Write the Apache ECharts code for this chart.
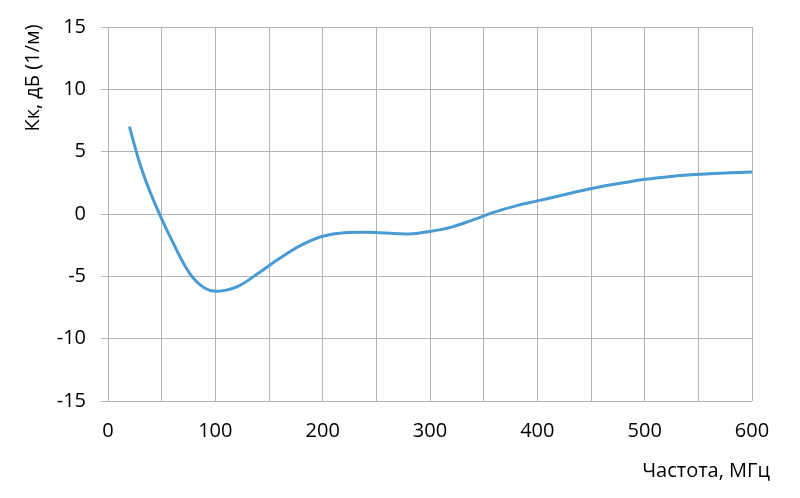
<!DOCTYPE html>
<html><head><meta charset="utf-8">
<script src="https://cdn.jsdelivr.net/npm/echarts@6/dist/echarts.min.js"></script>
<style>html,body{margin:0;padding:0;background:#fff}#c{width:800px;height:498px}</style>
</head><body><div id="c"></div>
<script>
const freq = [20, 30, 40, 60, 80, 100, 120, 140, 160, 180, 200, 220, 240, 260, 280, 300, 320, 340, 360, 380, 400, 420, 440, 460, 480, 500, 520, 540, 560, 580, 600];
const kk   = [7.0, 3.95, 1.6, -2.2, -5.2, -6.2, -5.85, -4.75, -3.55, -2.5, -1.78, -1.5, -1.47, -1.53, -1.6, -1.4, -1.05, -0.47, 0.15, 0.65, 1.05, 1.45, 1.85, 2.2, 2.5, 2.78, 2.97, 3.12, 3.22, 3.3, 3.37];
const xTicks = [0, 100, 200, 300, 400, 500, 600];
const yTicks = [-15, -10, -5, 0, 5, 10, 15];
const xName = 'Частота, МГц';
const yName = 'Кк, дБ (1/м)';

const chart = echarts.init(document.getElementById('c'));
const font = '"Open Sans", "Noto Sans", sans-serif';
chart.setOption({
  animation: false,
  grid: {left: 108, right: 48, top: 27, bottom: 97},
  xAxis: {
    type: 'value', min: 0, max: 600, interval: 50,
    axisLine: {show: false}, axisTick: {show: false},
    splitLine: {show: true, lineStyle: {color: '#b4b4b4', width: 1}},
    axisLabel: {
      fontFamily: font, fontSize: 20, color: '#000', margin: 20,
      formatter: v => xTicks.includes(v) ? String(v) : ''
    }
  },
  yAxis: {
    type: 'value', min: -15, max: 15, interval: 5,
    axisLine: {show: false},
    axisTick: {show: true, length: 7, lineStyle: {color: '#b4b4b4'}},
    splitLine: {show: true, lineStyle: {color: '#b4b4b4', width: 1}},
    axisLabel: {
      fontFamily: font, fontSize: 20, color: '#000', margin: 22,
      formatter: v => yTicks.includes(v) ? String(v) : ''
    }
  },
  graphic: [
    {type: 'text', style: {text: yName, font: '20px ' + font, fill: '#000', textAlign: 'center', textVerticalAlign: 'middle'}, x: 33, y: 78, rotation: Math.PI / 2},
    {type: 'text', style: {text: xName, font: '20px ' + font, fill: '#000', textAlign: 'right', textVerticalAlign: 'middle'}, x: 770, y: 471}
  ],
  series: [{
    type: 'line', smooth: 0.35, showSymbol: false,
    data: freq.map((f, i) => [f, kk[i]]),
    lineStyle: {color: '#4a9bd4', width: 3}
  }]
});
</script></body></html>
